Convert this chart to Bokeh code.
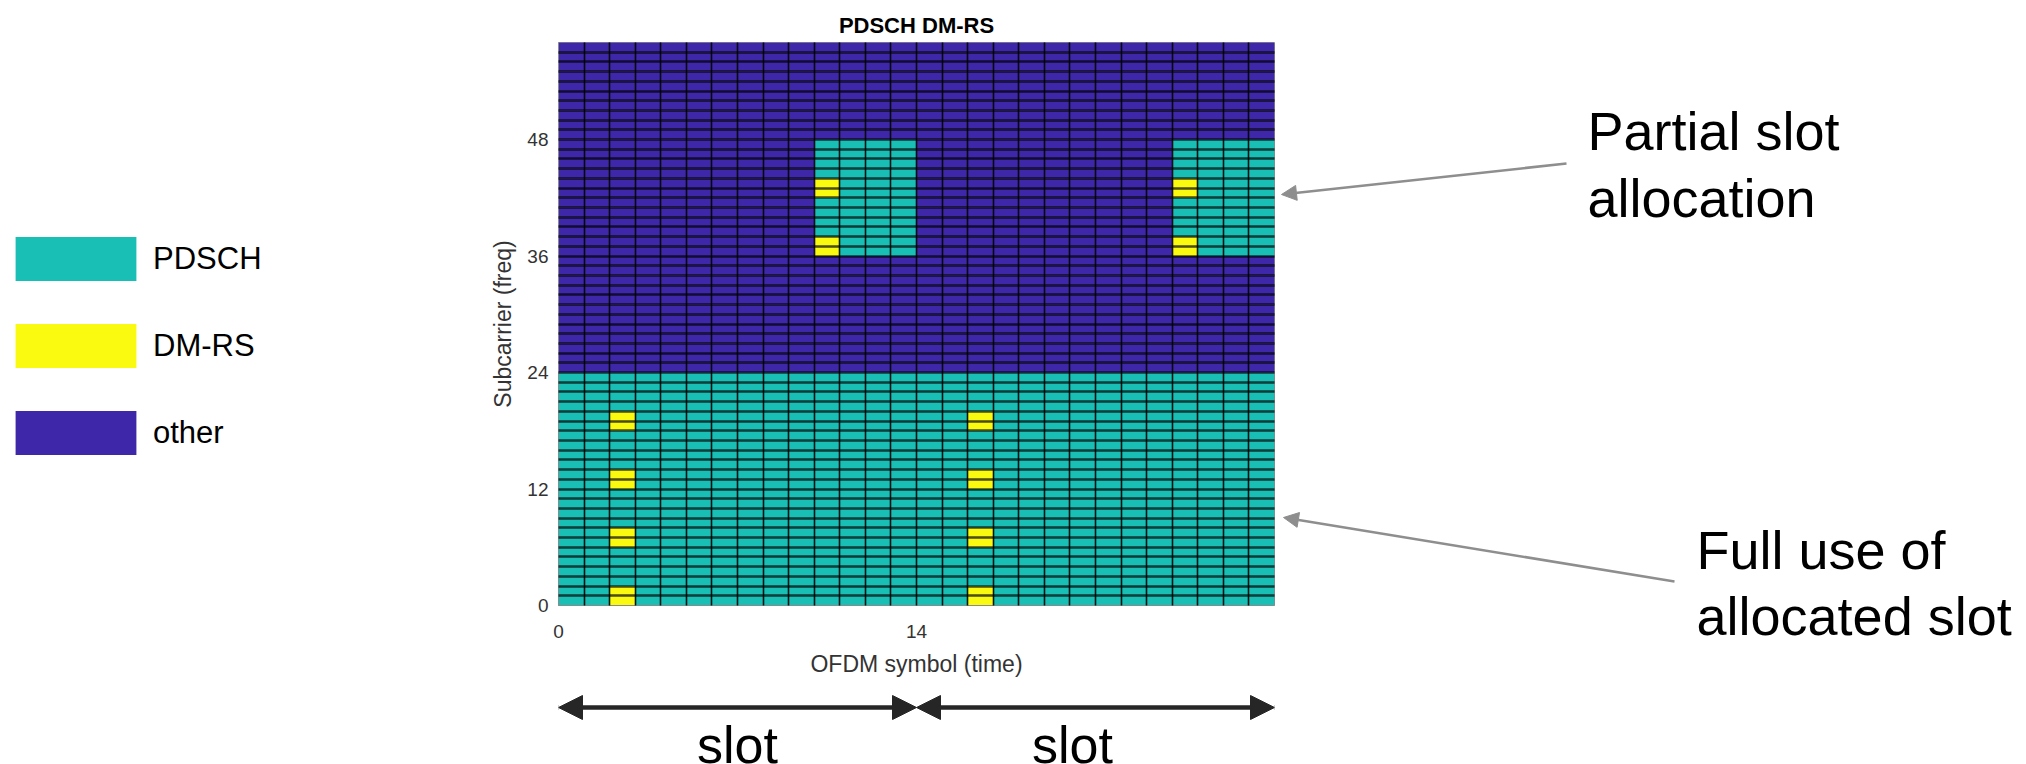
import numpy as np
from bokeh.plotting import figure
from bokeh.models import (Range1d, FixedTicker, SingleIntervalTicker, Legend, LegendItem,
                          Label, Arrow, NormalHead, ColumnDataSource)
from bokeh.layouts import row, column
from bokeh.embed import file_html
from bokeh.resources import INLINE

# ---------------- data ----------------
n_symbols = 28            # OFDM symbols (2 slots x 14)
n_subcarriers = 58        # subcarriers shown
x_ticks = [0, 14]
y_ticks = [0, 12, 24, 36, 48]
categories = ["PDSCH", "DM-RS", "other"]
cat_colors = ["#19BFB5", "#F9FA0F", "#3E27A8"]

# full use of allocated slot (both slots)
full_symbols = list(range(0, 28))
full_subcarriers = list(range(0, 24))
full_dmrs_symbols = [2, 16]
full_dmrs_subcarriers = [0, 1, 6, 7, 12, 13, 18, 19]

# partial slot allocation
partial_symbols = [10, 11, 12, 13, 24, 25, 26, 27]
partial_subcarriers = list(range(36, 48))
partial_dmrs_symbols = [10, 24]
partial_dmrs_subcarriers = [36, 37, 42, 43]

slot_bounds = [0, 14, 28]
slot_names = ["slot", "slot"]
title_text = "PDSCH DM-RS"
x_label = "OFDM symbol (time)"
y_label = "Subcarrier (freq)"
note_partial = ["Partial slot", "allocation"]
note_full = ["Full use of", "allocated slot"]

FONT = "Liberation Sans"
TOTAL_W, TOTAL_H = 2026, 764

# ---------------- build resource grid ----------------
grid = np.full((n_subcarriers, n_symbols), "other", dtype=object)
for s in full_symbols:
    for k in full_subcarriers:
        grid[k, s] = "PDSCH"
for s in partial_symbols:
    for k in partial_subcarriers:
        grid[k, s] = "PDSCH"
for s in full_dmrs_symbols:
    for k in full_dmrs_subcarriers:
        grid[k, s] = "DM-RS"
for s in partial_dmrs_symbols:
    for k in partial_dmrs_subcarriers:
        grid[k, s] = "DM-RS"


def blank(fig):
    fig.outline_line_color = None
    fig.grid.visible = False
    fig.background_fill_color = "white"
    fig.border_fill_color = "white"


# ---------------- left legend panel ----------------
W_L = 480
pl = figure(width=W_L, height=TOTAL_H, x_range=Range1d(0, W_L), y_range=Range1d(0, TOTAL_H),
            output_backend="svg", toolbar_location=None, tools="",
            min_border_left=0, min_border_right=0, min_border_top=0, min_border_bottom=0,
            x_axis_location=None, y_axis_location=None)
blank(pl)
# legend proxies: one off-canvas sample each so the legend can draw its swatch
legend_renderers = [pl.rect(x=[-1000], y=[-1000], width=1, height=1, fill_color=c, line_color=None)
                    for c in cat_colors]
legend = Legend(items=[LegendItem(label=c, renderers=[r]) for c, r in zip(categories, legend_renderers)],
                location=(0, 304), orientation="vertical",
                glyph_width=151, glyph_height=55, label_standoff=2, spacing=32,
                padding=0, margin=0, border_line_color=None, background_fill_alpha=0,
                label_text_font=FONT, label_text_font_size="31px", label_text_color="black")
pl.add_layout(legend)

# ---------------- main heatmap figure ----------------
W_MAIN = 796
H_MAIN = 680
p = figure(width=W_MAIN, height=H_MAIN,
           x_range=Range1d(0, n_symbols), y_range=Range1d(0, n_subcarriers),
           output_backend="svg", toolbar_location=None, tools="",
           min_border_left=78, min_border_right=2, min_border_top=42, min_border_bottom=75,
           title=title_text)
p.background_fill_color = "white"
p.border_fill_color = "white"
p.outline_line_color = "#8a8a8a"
p.outline_line_width = 1

for cat, col in zip(categories, cat_colors):
    ks, ss = np.where(grid == cat)
    src = ColumnDataSource(dict(x=ss + 0.5, y=ks + 0.5))
    p.rect(x="x", y="y", width=1, height=1, source=src, fill_color=col, line_color=None)

# cell boundaries drawn as grid lines on top of the cells
p.xgrid.ticker = SingleIntervalTicker(interval=1, num_minor_ticks=0)
p.ygrid.ticker = SingleIntervalTicker(interval=1, num_minor_ticks=0)
p.xgrid.grid_line_color = "black"
p.xgrid.grid_line_width = 1.6
p.xgrid.grid_line_alpha = 0.9
p.ygrid.grid_line_color = "black"
p.ygrid.grid_line_width = 2.4
p.ygrid.grid_line_alpha = 0.7
p.xgrid.level = "overlay"
p.ygrid.level = "overlay"

p.title.text_font = FONT
p.title.text_font_size = "22px"
p.title.text_font_style = "bold"
p.title.text_color = "black"
p.title.align = "center"
p.title.standoff = 9

for ax in (p.xaxis[0], p.yaxis[0]):
    ax.major_tick_line_color = None
    ax.minor_tick_line_color = None
    ax.major_tick_out = 0
    ax.major_tick_in = 0
    ax.minor_tick_out = 0
    ax.minor_tick_in = 0
    ax.axis_line_color = "#8a8a8a"
    ax.major_label_text_font = FONT
    ax.major_label_text_font_size = "19px"
    ax.major_label_text_color = "#333333"
    ax.axis_label_text_font = FONT
    ax.axis_label_text_font_size = "23px"
    ax.axis_label_text_font_style = "normal"
    ax.axis_label_text_color = "#333333"

p.xaxis.ticker = FixedTicker(ticks=x_ticks)
p.yaxis.ticker = FixedTicker(ticks=y_ticks)
p.xaxis.axis_label = x_label
p.yaxis.axis_label = y_label
p.xaxis.major_label_standoff = 19
p.xaxis.axis_label_standoff = 10
p.yaxis.major_label_standoff = 10
p.yaxis.axis_label_standoff = 8

# ---------------- slot arrows under the x axis ----------------
H_BOT = TOTAL_H - H_MAIN
pb = figure(width=W_MAIN, height=H_BOT, x_range=p.x_range, y_range=Range1d(0, H_BOT),
            output_backend="svg", toolbar_location=None, tools="",
            min_border_left=78, min_border_right=2, min_border_top=0, min_border_bottom=0,
            x_axis_location=None, y_axis_location=None)
blank(pb)

arrow_y = 57
slot_offsets = [0, -23]
DARK = "#262626"
for i, name in enumerate(slot_names):
    a, b = slot_bounds[i], slot_bounds[i + 1]
    pb.add_layout(Arrow(x_start=a, y_start=arrow_y, x_end=b, y_end=arrow_y,
                        start=NormalHead(size=24, fill_color=DARK, line_color=DARK, line_width=1),
                        end=NormalHead(size=24, fill_color=DARK, line_color=DARK, line_width=1),
                        line_color=DARK, line_width=4.5))
    pb.add_layout(Label(x=(a + b) / 2, y=20, x_offset=slot_offsets[i], text=name,
                        text_align="center", text_baseline="alphabetic",
                        text_font=FONT, text_font_size="52px", text_color="black"))

# ---------------- right annotation panel ----------------
W_R = TOTAL_W - W_L - W_MAIN
pr = figure(width=W_R, height=TOTAL_H, x_range=Range1d(0, W_R), y_range=Range1d(0, TOTAL_H),
            output_backend="svg", toolbar_location=None, tools="",
            min_border_left=0, min_border_right=0, min_border_top=0, min_border_bottom=0,
            x_axis_location=None, y_axis_location=None)
blank(pr)

GRAY = "#8e8e8e"
for txt, yb in zip(note_partial, [634, 567]):
    pr.add_layout(Label(x=311, y=yb, text=txt, text_align="left", text_baseline="alphabetic",
                        text_font=FONT, text_font_size="54px", text_color="black"))
for txt, yb in zip(note_full, [215, 149]):
    pr.add_layout(Label(x=420, y=yb, text=txt, text_align="left", text_baseline="alphabetic",
                        text_font=FONT, text_font_size="54px", text_color="black"))

pr.add_layout(Arrow(x_start=290, y_start=601, x_end=5, y_end=570,
                    end=NormalHead(size=15, fill_color=GRAY, line_color=GRAY, line_width=1),
                    line_color=GRAY, line_width=2.5))
pr.add_layout(Arrow(x_start=398, y_start=183, x_end=7, y_end=247,
                    end=NormalHead(size=15, fill_color=GRAY, line_color=GRAY, line_width=1),
                    line_color=GRAY, line_width=2.5))

layout = row(pl, column(p, pb), pr)
open("out.html", "w").write(file_html(layout, INLINE))
